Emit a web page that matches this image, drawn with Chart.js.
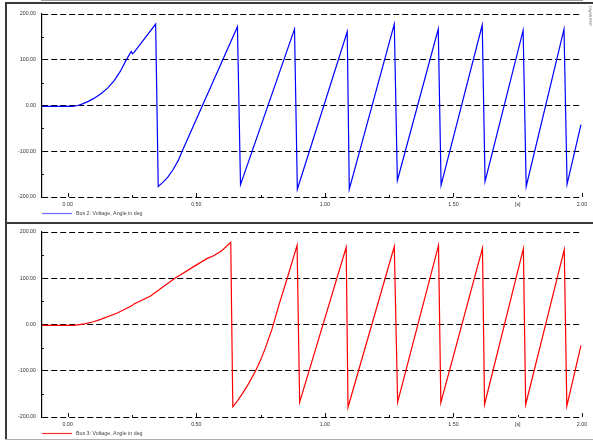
<!DOCTYPE html>
<html>
<head>
<meta charset="utf-8">
<script src="https://cdn.jsdelivr.net/npm/chart.js@4/dist/chart.umd.min.js"></script>
<style>
  html, body { margin: 0; padding: 0; background: #fff; }
  #page { position: relative; width: 593px; height: 441px; overflow: hidden; background: #fff; }
  .pane { position: absolute; left: 0; }
  .rule { position: absolute; background: #3a3a3a; }
  #brand { position: absolute; left: 593px; top: 6px; font: 4px "Liberation Sans", Arial, sans-serif;
           color: #777; transform: rotate(90deg); transform-origin: left top; white-space: nowrap; }
</style>
</head>
<body>
<div id="page">
  <div class="pane" style="top:0;width:593px;height:222px"><canvas id="busTwo" width="593" height="222"></canvas></div>
  <div class="pane" style="top:222px;width:593px;height:219px"><canvas id="busThree" width="593" height="219"></canvas></div>
  <div class="rule" style="left:5px;top:2px;width:588px;height:2px"></div>
  <div class="rule" style="left:5px;top:2px;width:2px;height:438px"></div>
  <div class="rule" style="left:5px;top:222px;width:588px;height:2px"></div>
  <div class="rule" style="left:5px;top:439px;width:588px;height:1px;background:#b0b0b0"></div>
  <div id="brand">DIgSILENT</div>
</div>
<script>
// Time axis [s] and angle values [deg] for each busbar
const bus2Time  = [-0.1, 0.018, 0.04, 0.06, 0.08, 0.10, 0.128, 0.155, 0.18, 0.205, 0.225, 0.247, 0.252, 0.258, 0.342,
                   0.352, 0.37, 0.39, 0.41, 0.43, 0.445, 0.660,
                   0.672, 0.882, 0.893, 1.087, 1.095, 1.270, 1.282, 1.441, 1.452, 1.612,
                   1.623, 1.771, 1.783, 1.930, 1.942, 1.996];
const bus2Angle = [-2, -2, 0, 4, 9, 15, 25, 38, 54, 75, 97, 118, 113, 116, 178,
                   -177, -168, -156, -140, -120, -100, 172,
                   -173, 167, -183, 161, -183, 178, -164, 167, -174, 176,
                   -166, 164, -177, 167, -172, -42];

const bus3Time  = [-0.1, 0.025, 0.065, 0.10, 0.128, 0.193, 0.251, 0.256, 0.322, 0.414, 0.504, 0.543, 0.569, 0.60, 0.634,
                   0.642, 0.66, 0.68, 0.70, 0.73, 0.75, 0.77, 0.795, 0.823, 0.853, 0.892,
                   0.902, 1.083, 1.090, 1.270, 1.283, 1.442, 1.451, 1.613,
                   1.621, 1.772, 1.781, 1.931, 1.941, 1.996];
const bus3Angle = [-2, -2, 1.5, 6, 11, 25, 41, 44, 61.5, 99, 130, 143, 149, 160, 177.5,
                   -178, -165, -149, -131, -101, -77, -49, -9, 45, 99, 171,
                   -168, 167, -179, 168.5, -168, 171, -169, 165,
                   -173, 164, -173, 162, -176.5, -45];

// Axis ticks
const xTickValues  = [0, 0.5, 1, 1.5, 1.75, 2];
const xTickLabels  = ['0.00', '0.50', '1.00', '1.50', '[s]', '2.00'];
const xMinorTicks  = [0.25, 0.75, 1.25, 1.75];
const yTickValues  = [-200, -100, 0, 100, 200];
const yMinorTicks  = [-150, -50, 50, 150];

const FONT = 'Liberation Sans, Arial, sans-serif';

// Tick marks and the legend line below each diagram
const decor = {
  id: 'decor',
  afterDraw(chart) {
    const ctx = chart.ctx;
    const xs = chart.scales.x, ys = chart.scales.y;
    const area = chart.chartArea;
    ctx.save();
    ctx.strokeStyle = '#111';
    ctx.lineWidth = 1;
    ctx.beginPath();
    xTickValues.forEach(v => {
      if (xMinorTicks.includes(v)) return;
      const px = Math.round(xs.getPixelForValue(v)) + 0.5;
      ctx.moveTo(px, area.bottom); ctx.lineTo(px, area.bottom - 4);
    });
    xMinorTicks.forEach(v => {
      const px = Math.round(xs.getPixelForValue(v)) + 0.5;
      ctx.moveTo(px, area.bottom); ctx.lineTo(px, area.bottom - 2);
    });
    yMinorTicks.forEach(v => {
      const py = Math.round(ys.getPixelForValue(v)) + 0.5;
      ctx.moveTo(area.left, py); ctx.lineTo(area.left + 2, py);
    });
    ctx.stroke();

    const ds = chart.data.datasets[0];
    const ly = area.bottom + 16.5;
    ctx.strokeStyle = ds.legendColor;
    ctx.lineWidth = 1.2;
    ctx.beginPath();
    ctx.moveTo(area.left, ly); ctx.lineTo(area.left + 30, ly);
    ctx.stroke();
    ctx.fillStyle = '#444';
    ctx.font = '5.3px ' + FONT;
    ctx.textBaseline = 'middle';
    ctx.textAlign = 'left';
    ctx.fillText(ds.label, area.left + 34, ly + 0.5);
    ctx.restore();
  }
};

function makeChart(id, times, angles, label, color, legendColor, padTop, xHeight) {
  const points = times.map((t, i) => ({ x: t, y: angles[i] }));
  return new Chart(document.getElementById(id), {
    type: 'line',
    data: {
      datasets: [{
        label: label,
        data: points,
        borderColor: color,
        legendColor: legendColor,
        borderWidth: 1.2,
        pointRadius: 0,
        tension: 0,
        fill: false
      }]
    },
    options: {
      responsive: false,
      animation: false,
      devicePixelRatio: 1,
      events: [],
      layout: { padding: { top: padTop, right: 11, left: 0, bottom: 0 } },
      plugins: { legend: { display: false }, tooltip: { enabled: false } },
      scales: {
        x: {
          type: 'linear',
          min: -0.1,
          max: 2.0,
          afterBuildTicks(scale) { scale.ticks = xTickValues.map(v => ({ value: v })); },
          afterFit(scale) { scale.height = xHeight; },
          ticks: {
            autoSkip: false,
            maxRotation: 0,
            padding: 4,
            color: '#333',
            font: { family: FONT, size: 5.3 },
            callback: (v, i) => xTickLabels[i]
          },
          grid: { display: false, drawTicks: false },
          border: { display: true, color: '#777', width: 1.5, z: -2 }
        },
        y: {
          type: 'linear',
          min: -200,
          max: 200,
          afterBuildTicks(scale) { scale.ticks = yTickValues.map(v => ({ value: v })); },
          afterFit(scale) { scale.width = 42; },
          ticks: {
            padding: 6,
            color: '#333',
            font: { family: FONT, size: 5.3 },
            callback: v => v.toFixed(2)
          },
          grid: { display: true, drawTicks: false, color: '#000', lineWidth: 1 },
          border: { display: true, color: '#000', width: 1.2, dash: [6, 3] }
        }
      }
    },
    plugins: [decor]
  });
}

makeChart('busTwo', bus2Time, bus2Angle, 'Bus 2: Voltage, Angle in deg', '#0000ff', '#6b6bff', 14, 25);
makeChart('busThree', bus3Time, bus3Angle, 'Bus 3: Voltage, Angle in deg', '#ff0000', '#ff3030', 10, 24);
</script>
</body>
</html>
